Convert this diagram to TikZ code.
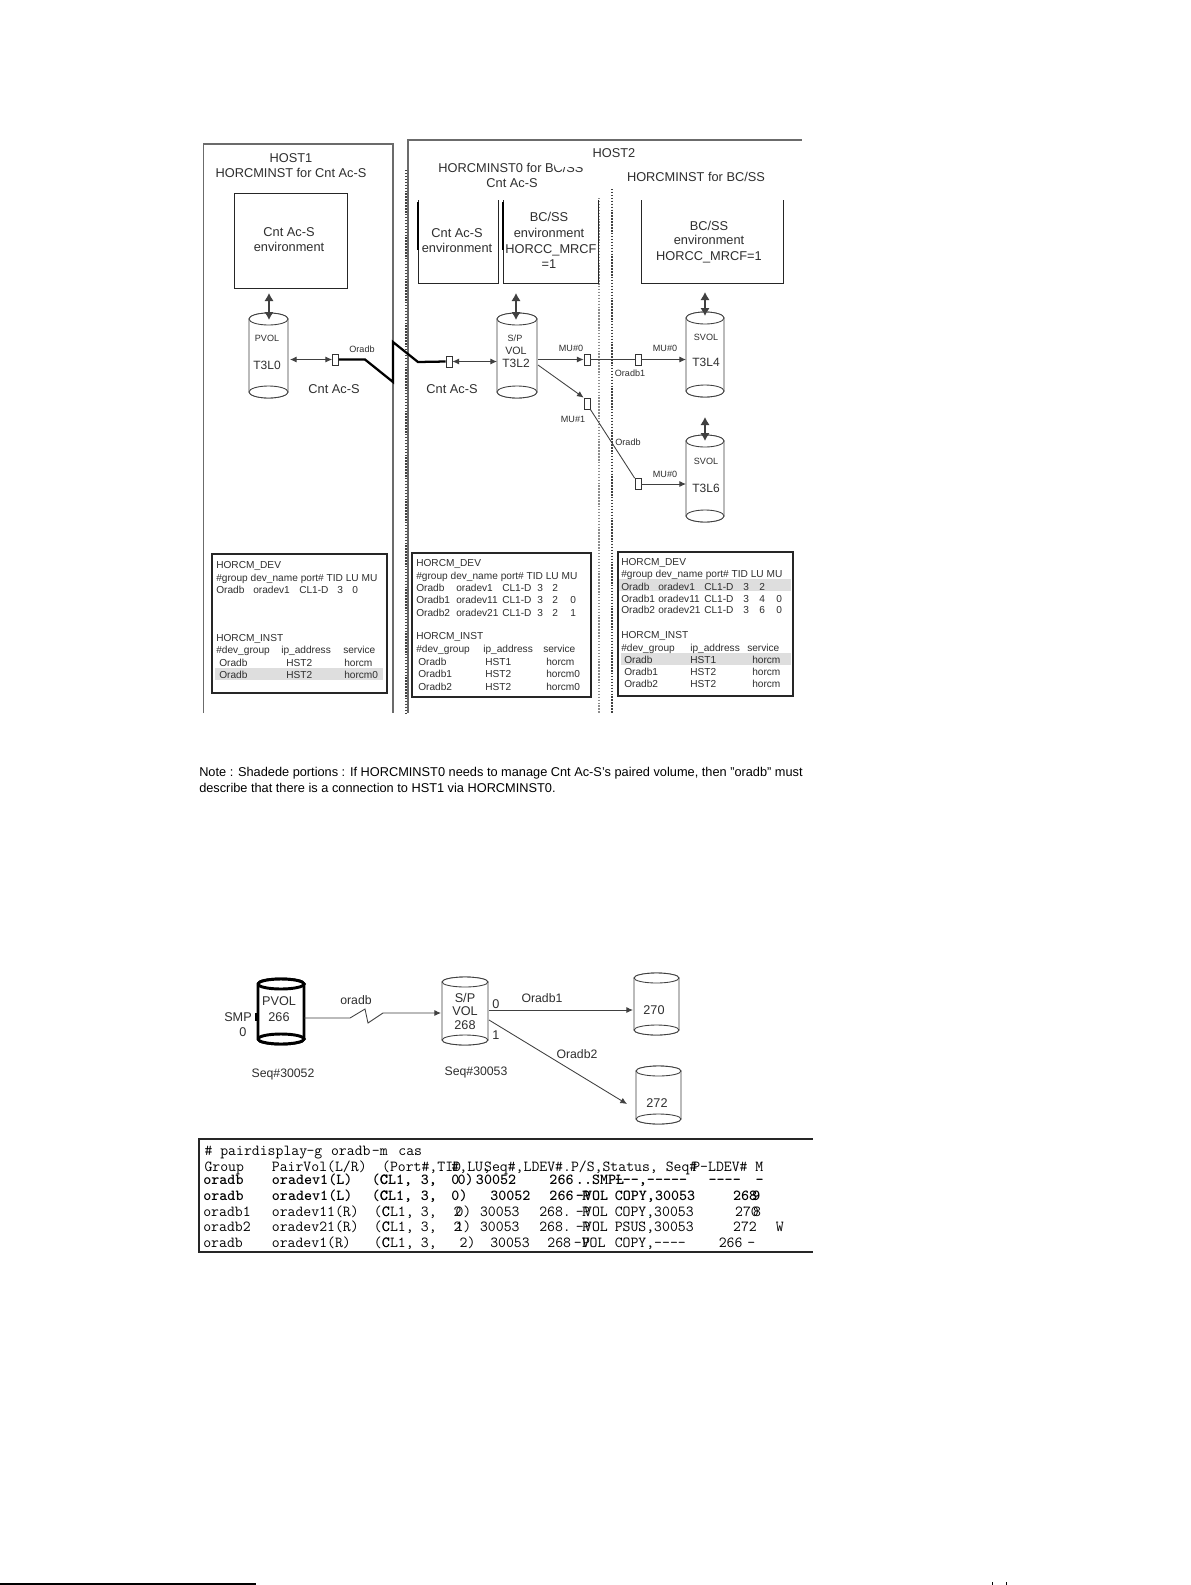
\documentclass[tikz,border=0pt]{standalone}
\usepackage{fontspec}
\setmainfont{Liberation Sans}
\usetikzlibrary{arrows.meta}
\definecolor{ink}{gray}{0.18}
\definecolor{hostline}{gray}{0.42}
\definecolor{rowshade}{gray}{0.87}
\tikzset{
  lbl/.style={inner sep=0pt,text=ink,text height=.72em,text depth=0pt,font=\fontsize{#1}{#1}\selectfont},
  lbl/.default=9.6pt,
  tbl/.style={lbl=7.6pt,anchor=west},
  term/.style={inner sep=0pt,anchor=west,text=black,text height=.62em,text depth=0pt,font=\fontsize{11.5pt}{11.5pt}\selectfont\ttfamily},
  hostln/.style={draw=hostline,line width=1.1pt},
  dotdark/.style={draw=black!75,line width=.8pt,dash pattern=on 1.1pt off 1.1pt},
  dotgray/.style={draw=black!45,line width=1.2pt,dash pattern=on 1.1pt off 1.1pt},
  envline/.style={draw=black!85,line width=.75pt},
  tabbox/.style={draw=black!85,line width=1.5pt},
  cylline/.style={draw=black!75,line width=.65pt,fill=white},
  conn/.style={draw=black!75,line width=.65pt},
  thick link/.style={draw=black,line width=1.7pt,line join=miter},
  tip/.style={-{Latex[length=5pt,width=4.5pt]}},
  tips/.style={{Latex[length=5pt,width=4.5pt]}-{Latex[length=5pt,width=4.5pt]}},
  bigtips/.style={{Latex[length=6pt,width=7pt]}-{Latex[length=6pt,width=7pt]}},
  gate/.style={draw=black!80,fill=white,line width=.65pt,inner sep=0pt,minimum width=4.4pt,minimum height=8.2pt},
}
% cylinder: name, x1, ytop, x2, ybottom, ry, extra style
\newcommand{\cylshape}[7][]{%
  \path[cylline,#1] (#2,#3+#6) -- (#2,#5-#6) arc[x radius={(#4-#2)/2*.75pt},y radius={#6*.75pt},start angle=180,end angle=360]
    -- (#4,#3+#6) arc[x radius={(#4-#2)/2*.75pt},y radius={#6*.75pt},start angle=0,end angle=180] -- cycle;
  \path[cylline,#1] (#2,#3+#6) arc[x radius={(#4-#2)/2*.75pt},y radius={#6*.75pt},start angle=180,end angle=540];
  \path[cylline,#1] (#2,#5-#6) arc[x radius={(#4-#2)/2*.75pt},y radius={#6*.75pt},start angle=180,end angle=540];
  \coordinate (#7) at ({(#2+#4)/2},{(#3+#5)/2});
}
\newcommand{\tr}[3]{\node[term] at ({190+#1/2.45},#2) {#3};}
\newcommand{\trb}[3]{\node[term,font=\fontsize{11.5pt}{11.5pt}\selectfont\ttfamily\bfseries] at ({190+#1/2.45},#2) {#3};}
\begin{document}
\begin{tikzpicture}[x=.75pt,y=-.75pt]
\useasboundingbox (0,0) rectangle (1190,1585);
\fill[white] (0,0) rectangle (1190,1585);

% Host frames
\draw[hostln] (203.5,713) -- (203.5,144) -- (393,144) -- (393,713);
\draw[hostln] (408,713) -- (408,140) -- (802,140);
\draw[dotdark] (406,170) -- (406,713);
\draw[dotgray] (599,198) -- (599,713);
\draw[dotdark] (612,189) -- (612,713);

\node[lbl] (hosta) at (291,158) {HOST1};
\node[lbl] (hostainst) at (291,173) {HORCMINST for Cnt Ac-S};
\node[lbl] (hostb) at (614,153) {HOST2};
\node[lbl] (hostbzero) at (511,168) {HORCMINST0 for BC/SS};
\fill[white] (555,160) rectangle (585,167);
\node[lbl] (hostbcnt) at (512,183) {Cnt Ac-S};
\node[lbl] (hostbinst) at (696,177) {HORCMINST for BC/SS};

% Environment boxes
\draw[envline] (234,193) rectangle (347,288);
\draw[envline] (418,200) -- (418,283) -- (498,283) -- (498,200);
\draw[envline] (503,200) -- (503,283) -- (598,283) -- (598,200);
\draw[envline] (641,200) -- (641,283) -- (783,283) -- (783,200);
\draw[line width=1.2pt,black] (418,202) -- (418,250);
\draw[line width=1.2pt,black] (503,202) -- (503,250);
\node[lbl] (enva) at (289,232) {Cnt Ac-S};
\node[lbl] (envb) at (289,247) {environment};
\node[lbl] (envc) at (457,233) {Cnt Ac-S};
\node[lbl] (envd) at (457,248) {environment};
\node[lbl] (enve) at (549,217) {BC/SS};
\node[lbl] (envf) at (549,233) {environment};
\node[lbl] (envg) at (551,249) {HORCC\_MRCF};
\node[lbl] (envh) at (549,264) {=1};
\node[lbl] (envi) at (709,226) {BC/SS};
\node[lbl] (envj) at (709,240) {environment};
\node[lbl] (envk) at (709,256) {HORCC\_MRCF=1};

% Upper cylinders
\cylshape{249}{313}{288}{398}{6}{cylA}
\cylshape{497}{313}{537}{398}{6}{cylB}
\cylshape{686}{312}{724}{397}{6}{cylC}
\cylshape{686}{435}{724}{522}{6}{cylD}
\node[lbl=6.8pt] (tA) at (267,337) {PVOL};
\node[lbl=9pt] (tB) at (267,365) {T3L0};
\node[lbl=6.8pt] (tC) at (515,337) {S/P};
\node[lbl=8pt] (tD) at (516,350) {VOL};
\node[lbl=9pt] (tE) at (516,363) {T3L2};
\node[lbl=6.8pt] (tF) at (706,336) {SVOL};
\node[lbl=9pt] (tG) at (706,362) {T3L4};
\node[lbl=6.8pt] (tH) at (706,460) {SVOL};
\node[lbl=9pt] (tI) at (706,488) {T3L6};

% vertical double arrows
\coordinate (envAb) at (269,293); \coordinate (cylAt) at (269,320);
\coordinate (envBb) at (516,293); \coordinate (cylBt) at (516,320);
\coordinate (envCb) at (705,292); \coordinate (cylCt) at (705,316);
\coordinate (envDb) at (705,417); \coordinate (cylDt) at (705,441);
\draw[conn,bigtips,line width=1pt] (envAb) -- (cylAt);
\draw[conn,bigtips,line width=1pt] (envBb) -- (cylBt);
\draw[conn,bigtips,line width=1pt] (envCb) -- (cylCt);
\draw[conn,bigtips,line width=1pt] (envDb) -- (cylDt);

% gates
\node[gate] (gA) at (335.5,359.5) {};
\node[gate] (gB) at (449,361.5) {};
\node[gate] (gC) at (587,359.5) {};
\node[gate] (gD) at (638,359.5) {};
\node[gate] (gE) at (587,403.5) {};
\node[gate] (gF) at (638,484) {};

% links
\coordinate (pA) at (290,359.5);
\coordinate (pB) at (497,361.5);
\coordinate (pC) at (538,359.5);
\coordinate (pD) at (686,359.5);
\coordinate (pE) at (538,365);
\coordinate (pF) at (686,484);
\draw[conn,tips] (pA) -- (gA.west);
\draw[conn,tips] (gB.east) -- (pB);
\draw[thick link] (gA.east) -- (365,359.5) -- (393,382) -- (393,342) -- (418,362) -- (gB.west);
\draw[conn,tip] (pC) -- (gC.west);
\draw[conn] (gC.east) -- (gD.west);
\draw[conn,tip] (gD.east) -- (pD);
\draw[conn,tip] (pE) -- (gE.north west);
\draw[conn] (gE.south east) -- (gF.north west);
\draw[conn,tip] (gF.east) -- (pF);

\node[lbl=6.8pt] (lA) at (362,348) {Oradb};
\node[lbl=9.6pt] (lB) at (334,389) {Cnt Ac-S};
\node[lbl=9.6pt] (lC) at (452,389) {Cnt Ac-S};
\node[lbl=6.8pt] (lD) at (571,347) {MU\#0};
\node[lbl=6.8pt] (lE) at (665,347) {MU\#0};
\node[lbl=6.8pt] (lF) at (573,418) {MU\#1};
\node[lbl=6.8pt] (lG) at (630,372) {Oradb1};
\node[lbl=6.8pt] (lH) at (628,441) {Oradb};
\node[lbl=6.8pt] (lI) at (665,473) {MU\#0};

% Table 1
\draw[tabbox] (212,554) rectangle (387,693);
\fill[rowshade] (215,668) rectangle (383,680);
\node[tbl] (a1) at (216,564) {HORCM\_DEV};
\node[tbl] (a2) at (216,577) {\#group dev\_name port\# TID LU MU};
\node[tbl] (a3) at (216,589) {Oradb};
\node[tbl] (a4) at (253,589) {oradev1};
\node[tbl] (a5) at (299,589) {CL1-D};
\node[tbl] (a6) at (337,589) {3};
\node[tbl] (a7) at (352,589) {0};
\node[tbl] (a8) at (216,637) {HORCM\_INST};
\node[tbl] (a9) at (216,649) {\#dev\_group};
\node[tbl] (a10) at (281,649) {ip\_address};
\node[tbl] (a11) at (343,649) {service};
\node[tbl] (a12) at (219,662) {Oradb};
\node[tbl] (a13) at (286,662) {HST2};
\node[tbl] (a14) at (344,662) {horcm};
\node[tbl] (a15) at (219,674) {Oradb};
\node[tbl] (a16) at (286,674) {HST2};
\node[tbl] (a17) at (344,674) {horcm0};

% Table 2
\draw[tabbox] (412,553) rectangle (591,697);
\node[tbl] (b1) at (416,562) {HORCM\_DEV};
\node[tbl] (b2) at (416,575) {\#group dev\_name port\# TID LU MU};
\node[tbl] (b3) at (416,587) {Oradb};
\node[tbl] (b4) at (456,587) {oradev1};
\node[tbl] (b5) at (502,587) {CL1-D};
\node[tbl] (b6) at (537,587) {3};
\node[tbl] (b7) at (552,587) {2};
\node[tbl] (b8) at (416,599) {Oradb1};
\node[tbl] (b9) at (456,599) {oradev11};
\node[tbl] (b10) at (502,599) {CL1-D};
\node[tbl] (b11) at (537,599) {3};
\node[tbl] (b12) at (552,599) {2};
\node[tbl] (b13) at (570,599) {0};
\node[tbl] (b14) at (416,612) {Oradb2};
\node[tbl] (b15) at (456,612) {oradev21};
\node[tbl] (b16) at (502,612) {CL1-D};
\node[tbl] (b17) at (537,612) {3};
\node[tbl] (b18) at (552,612) {2};
\node[tbl] (b19) at (570,612) {1};
\node[tbl] (b20) at (416,635) {HORCM\_INST};
\node[tbl] (b21) at (416,648) {\#dev\_group};
\node[tbl] (b22) at (483,648) {ip\_address};
\node[tbl] (b23) at (543,648) {service};
\node[tbl] (b24) at (418,661) {Oradb};
\node[tbl] (b25) at (485,661) {HST1};
\node[tbl] (b26) at (546,661) {horcm};
\node[tbl] (b27) at (418,673) {Oradb1};
\node[tbl] (b28) at (485,673) {HST2};
\node[tbl] (b29) at (546,673) {horcm0};
\node[tbl] (b30) at (418,686) {Oradb2};
\node[tbl] (b31) at (485,686) {HST2};
\node[tbl] (b32) at (546,686) {horcm0};

% Table 3
\draw[tabbox] (618,552) rectangle (793,696);
\fill[rowshade] (619,579) rectangle (791,591);
\fill[rowshade] (621,653) rectangle (791,665);
\node[tbl] (c1) at (621,561) {HORCM\_DEV};
\node[tbl] (c2) at (621,573) {\#group dev\_name port\# TID LU MU};
\node[tbl] (c3) at (621,586) {Oradb};
\node[tbl] (c4) at (658,586) {oradev1};
\node[tbl] (c5) at (704,586) {CL1-D};
\node[tbl] (c6) at (743,586) {3};
\node[tbl] (c7) at (759,586) {2};
\node[tbl] (c8) at (621,598) {Oradb1};
\node[tbl] (c9) at (658,598) {oradev11};
\node[tbl] (c10) at (704,598) {CL1-D};
\node[tbl] (c11) at (743,598) {3};
\node[tbl] (c12) at (759,598) {4};
\node[tbl] (c13) at (776,598) {0};
\node[tbl] (c14) at (621,609) {Oradb2};
\node[tbl] (c15) at (658,609) {oradev21};
\node[tbl] (c16) at (704,609) {CL1-D};
\node[tbl] (c17) at (743,609) {3};
\node[tbl] (c18) at (759,609) {6};
\node[tbl] (c19) at (776,609) {0};
\node[tbl] (c20) at (621,634) {HORCM\_INST};
\node[tbl] (c21) at (621,647) {\#dev\_group};
\node[tbl] (c22) at (690,647) {ip\_address};
\node[tbl] (c23) at (747,647) {service};
\node[tbl] (c24) at (624,659) {Oradb};
\node[tbl] (c25) at (690,659) {HST1};
\node[tbl] (c26) at (752,659) {horcm};
\node[tbl] (c27) at (624,671) {Oradb1};
\node[tbl] (c28) at (690,671) {HST2};
\node[tbl] (c29) at (752,671) {horcm};
\node[tbl] (c30) at (624,683) {Oradb2};
\node[tbl] (c31) at (690,683) {HST2};
\node[tbl] (c32) at (752,683) {horcm};

% Note
\node[lbl=9.58pt,anchor=west,text=black] (noteA) at (199,772) {Note : Shadede portions : If HORCMINST0 needs to manage Cnt Ac-S's paired volume, then "oradb" must};
\node[lbl=9.58pt,anchor=west,text=black] (noteB) at (199,788) {describe that there is a connection to HST1 via HORCMINST0.};

% Lower diagram
\cylshape[line width=2.2pt,draw=black]{258}{979}{304}{1044}{5}{cylP}
\cylshape{442}{977}{488}{1045}{5}{cylS}
\cylshape{634}{973}{679}{1035}{5}{cylT}
\cylshape{636}{1066}{681}{1124}{5}{cylU}
\draw[line width=2.2pt,black] (256,1013) -- (256,1021);
\node[lbl=9.5pt] (pv) at (279,1001) {PVOL};
\node[lbl=9.5pt] (pn) at (279,1017) {266};
\node[lbl=9.5pt] (smp) at (238,1017) {SMP};
\node[lbl=9.5pt] (smz) at (243,1032) {0};
\node[lbl=9.5pt] (sa) at (465,998) {S/P};
\node[lbl=9.5pt] (sb) at (465,1011) {VOL};
\node[lbl=9.5pt] (sc) at (465,1025) {268};
\node[lbl=9.5pt] (d0) at (496,1004) {0};
\node[lbl=9.5pt] (d1) at (496,1035) {1};
\node[lbl=9.5pt] (tn) at (654,1010) {270};
\node[lbl=9.5pt] (un) at (657,1103) {272};
\node[lbl=9.2pt] (qa) at (283,1073) {Seq\#30052};
\node[lbl=9.2pt] (qb) at (476,1071) {Seq\#30053};
\node[lbl=9.2pt] (oa) at (356,1000) {oradb};
\node[lbl=9.2pt] (ob) at (542,998) {Oradb1};
\node[lbl=9.2pt] (oc) at (577,1054) {Oradb2};
\coordinate (pP) at (304,1018);
\coordinate (pS) at (441,1013);
\coordinate (sO) at (489,1010);
\coordinate (tI2) at (633,1010);
\coordinate (sD) at (489,1020);
\coordinate (uI) at (627,1104);
\draw[conn,tip] (pP) -- (350,1018) -- (365,1009) -- (368,1023) -- (383,1013) -- (pS);
\draw[conn,tip] (sO) -- (tI2);
\draw[conn,tip] (sD) -- (uI);

% Terminal
\draw[black!85,line width=1pt] (812.5,1139) -- (199,1139) -- (199,1252) -- (812.5,1252);
\tr{35}{1151}{\# pairdisplay}\tr{285}{1151}{-g}\tr{345}{1151}{oradb}\tr{445}{1151}{-m}\tr{510}{1151}{cas}
\tr{35}{1167}{Group}\tr{200}{1167}{PairVol(L/R)}\tr{470}{1167}{(Port\#,TID}\tr{640}{1167}{\#,LU,}\tr{720}{1167}{Seq\#,LDEV\#.P/S,Status, Seq\#}\tr{1230}{1167}{P-LDEV\# M}
\trb{32}{1180}{oradb}\trb{200}{1180}{oradev1(L)}\trb{445}{1180}{(C}\trb{465}{1180}{CL1,}\trb{565}{1180}{3,}\trb{640}{1180}{0}\trb{655}{1180}{0)}\trb{700}{1180}{30052}\trb{880}{1180}{266}\trb{945}{1180}{..SMPL}\trb{1040}{1180}{---,-----}\trb{1270}{1180}{----}\trb{1385}{1180}{-}
\trb{32}{1196}{oradb}\trb{200}{1196}{oradev1(L)}\trb{445}{1196}{(C}\trb{465}{1196}{CL1,}\trb{565}{1196}{3,}\trb{640}{1196}{0)}\trb{735}{1196}{30052}\trb{880}{1196}{266}\trb{945}{1196}{-VOL}\trb{960}{1196}{P}\trb{1040}{1196}{COPY,30053}\trb{1330}{1196}{268}\trb{1338}{1196}{~~9}
\tr{32}{1212}{oradb1}\tr{200}{1212}{oradev11(R)}\tr{450}{1212}{(C}\tr{470}{1212}{CL1,}\tr{565}{1212}{3,}\tr{645}{1212}{2}\tr{650}{1212}{0)}\tr{710}{1212}{30053}\tr{855}{1212}{268.}\tr{945}{1212}{-}\tr{960}{1212}{P}\tr{965}{1212}{VOL}\tr{1040}{1212}{COPY,30053}\tr{1335}{1212}{270}\tr{1340}{1212}{~~8}
\tr{32}{1227}{oradb2}\tr{200}{1227}{oradev21(R)}\tr{450}{1227}{(C}\tr{470}{1227}{CL1,}\tr{565}{1227}{3,}\tr{645}{1227}{2}\tr{650}{1227}{1)}\tr{710}{1227}{30053}\tr{855}{1227}{268.}\tr{945}{1227}{-}\tr{960}{1227}{P}\tr{965}{1227}{VOL}\tr{1040}{1227}{PSUS,30053}\tr{1330}{1227}{272}\tr{1435}{1227}{W}
\tr{32}{1243}{oradb}\tr{200}{1243}{oradev1(R)}\tr{450}{1243}{(C}\tr{470}{1243}{CL1,}\tr{565}{1243}{3,}\tr{660}{1243}{2)}\tr{735}{1243}{30053}\tr{875}{1243}{268}\tr{940}{1243}{-VOL}\tr{960}{1243}{P}\tr{1040}{1243}{COPY,----}\tr{1295}{1243}{266}\tr{1365}{1243}{-}

% Footnote rule
\draw[black,line width=1pt] (0,1584) -- (256,1584);
\draw[black,line width=.75pt] (992,1582) -- (992,1585);
\draw[black,line width=.75pt] (1006,1582) -- (1006,1585);
\end{tikzpicture}
\end{document}
